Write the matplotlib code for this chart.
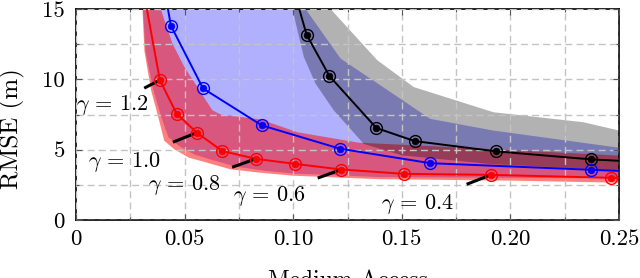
import numpy as np
import matplotlib
matplotlib.use("Agg")
import matplotlib.pyplot as plt
from matplotlib.ticker import MultipleLocator, FixedLocator, FixedFormatter

plt.rcParams["font.family"] = ["cmr10", "DejaVu Serif"]
plt.rcParams["mathtext.fontset"] = "cm"
plt.rcParams["axes.formatter.use_mathtext"] = True

# ── Data ───────────────────────────────────────────────────────
# gamma = 0.4 ... 1.2 curve (red)
access_red = [0.0300, 0.0386, 0.0463, 0.0556, 0.0674, 0.0827, 0.1008, 0.1222, 0.1512, 0.1910, 0.2462, 0.2700]
rmse_red = [17.2, 9.95, 7.57, 6.21, 4.90, 4.35, 3.99, 3.59, 3.28, 3.21, 3.00, 2.95]

# blue curve
access_blue = [0.0400, 0.0437, 0.0585, 0.0855, 0.1215, 0.1631, 0.2371, 0.2800]
rmse_blue = [17.0, 13.81, 9.35, 6.73, 5.07, 4.04, 3.57, 3.30]

# black curve
access_black = [0.1000, 0.1062, 0.1167, 0.1383, 0.1559, 0.1933, 0.2371, 0.2700]
rmse_black = [16.5, 13.16, 10.23, 6.54, 5.61, 4.88, 4.31, 4.05]

# spread bands (lower / upper boundaries)
red_lo_x = [0.0298, 0.0306, 0.0315, 0.0346, 0.0383, 0.0406, 0.0452, 0.0520, 0.0605, 0.0712, 0.0850, 0.1000, 0.1400, 0.2000, 0.2600]
red_lo_y = [17.0, 15.0, 12.0, 9.2, 7.07, 5.64, 5.03, 4.43, 4.07, 3.60, 3.36, 3.15, 2.90, 2.80, 2.62]
red_hi_x = [0.0380, 0.0390, 0.0444, 0.0498, 0.0628, 0.0666, 0.0850, 0.1019, 0.1300, 0.1907, 0.2600]
red_hi_y = [17.0, 15.0, 12.55, 10.9, 7.80, 7.50, 7.15, 6.24, 5.50, 5.05, 4.50]

blue_lo_x = [0.0300, 0.0308, 0.0320, 0.0355, 0.0395, 0.0425, 0.0475, 0.0545, 0.0630, 0.0735, 0.0870, 0.1000, 0.1400, 0.2000, 0.2600]
blue_lo_y = [17.0, 15.0, 12.0, 9.3, 7.2, 5.9, 5.25, 4.65, 4.25, 3.80, 3.50, 3.30, 3.05, 3.00, 2.95]
blue_hi_x = [0.1030, 0.1057, 0.1218, 0.1631, 0.1921, 0.2600]
blue_hi_y = [16.5, 15.0, 11.48, 7.19, 6.36, 4.93]

black_lo_x = [0.0985, 0.0996, 0.1049, 0.1103, 0.1187, 0.1325, 0.1500, 0.1754, 0.1907, 0.2600]
black_lo_y = [16.5, 15.0, 11.59, 9.69, 7.79, 5.41, 4.60, 4.21, 3.98, 3.45]
black_hi_x = [0.1120, 0.1172, 0.1387, 0.1555, 0.1922, 0.2336, 0.2600]
black_hi_y = [17.5, 15.0, 11.36, 9.45, 7.66, 6.95, 6.00]

# gamma labels: which red point, and where the text sits
gamma_values = ["1.2", "1.0", "0.8", "0.6", "0.4"]
gamma_idx = [1, 3, 5, 7, 9]
gamma_text_x = [0.0168, 0.0223, 0.0499, 0.0891, 0.1572]
gamma_text_y = [8.20, 4.15, 2.52, 1.74, 1.17]

x_ticks = [0, 0.05, 0.10, 0.15, 0.20, 0.25]
x_ticklabels = ["0", "0.05", "0.10", "0.15", "0.20", "0.25"]
y_ticks = [0, 5, 10, 15]
y_ticklabels = ["0", "5", "10", "15"]


def band(ax, lo_x, lo_y, hi_x, hi_y, color, alpha):
    px = np.concatenate([lo_x, hi_x[::-1]])
    py = np.concatenate([lo_y, hi_y[::-1]])
    ax.fill(px, py, color=color, alpha=alpha, lw=0, zorder=1)


def curve(ax, x, y, color):
    ax.plot(x, y, color=color, lw=1.4, zorder=3)
    ax.plot(x, y, ls="none", marker="o", ms=8.5, mfc="none", mec=color, mew=1.0, zorder=4)
    ax.plot(x, y, ls="none", marker="o", ms=4.8, mfc=color, mec=color, mew=0.5, zorder=4)


fig = plt.figure(figsize=(6.4, 2.78), dpi=100)
ax = fig.add_axes([76 / 640, 1 - 220 / 278, 543 / 640, 211 / 278])

band(ax, blue_lo_x, blue_lo_y, blue_hi_x, blue_hi_y, "#0000ff", 0.31)
band(ax, red_lo_x, red_lo_y, red_hi_x, red_hi_y, "#ff0000", 0.5)
band(ax, black_lo_x, black_lo_y, black_hi_x, black_hi_y, "#000000", 0.3)

curve(ax, access_black, rmse_black, "black")
curve(ax, access_blue, rmse_blue, "#0000ff")
curve(ax, access_red, rmse_red, "#ff0000")

# gamma pins: short black stroke from the marker towards the label
for val, i, tx, ty in zip(gamma_values, gamma_idx, gamma_text_x, gamma_text_y):
    mx, my = access_red[i], rmse_red[i]
    sx = tx + 0.67 * (mx - tx)
    sy = ty + 0.67 * (my - ty)
    ax.plot([sx, mx], [sy, my], color="black", lw=2.2, solid_capstyle="butt", zorder=3.5)
    ax.text(tx, ty, r"$\gamma\,=\,%s$" % val, fontsize=16, ha="center", va="center", zorder=5)

ax.set_xlim(0, 0.25)
ax.set_ylim(0, 15)
ax.xaxis.set_major_locator(FixedLocator(x_ticks))
ax.xaxis.set_major_formatter(FixedFormatter(x_ticklabels))
ax.yaxis.set_major_locator(FixedLocator(y_ticks))
ax.yaxis.set_major_formatter(FixedFormatter(y_ticklabels))
ax.xaxis.set_minor_locator(MultipleLocator(0.025))
ax.yaxis.set_minor_locator(MultipleLocator(2.5))

ax.grid(which="both", color="#c4c4c4", ls=(0, (5, 3)), lw=1.0)
ax.set_axisbelow(False)
ax.tick_params(which="both", direction="in", top=True, right=True, color="#555555", width=0.8)
ax.tick_params(which="major", length=4, labelsize=16.5)
ax.tick_params(axis="x", which="major", pad=7)
ax.tick_params(axis="y", which="major", pad=8)
ax.tick_params(which="minor", length=2.5)
for s in ax.spines.values():
    s.set_linewidth(1.2)

ax.set_ylabel("RMSE (m)", fontsize=18, va="center")
ax.yaxis.set_label_coords(-0.117, 0.431)
# the reference crops this label at the bottom edge
ax.set_xlabel("Medium Access", fontsize=17, va="top")
ax.xaxis.set_label_coords(0.5, -0.235)

fig.savefig("out.png", dpi=100)
